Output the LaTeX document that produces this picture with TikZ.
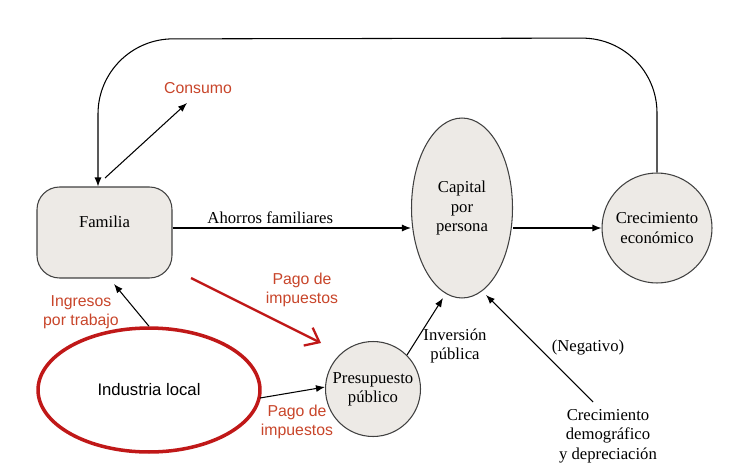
\documentclass[tikz,border=0pt]{standalone}
\usepackage{fontspec}
\setmainfont{Liberation Serif}
\newfontfamily\labelsans{Liberation Sans}
\usepackage{tikz}
\usetikzlibrary{arrows.meta,positioning,calc,shapes.geometric}

\definecolor{nodegray}{HTML}{EDEAE6}
\definecolor{labelred}{HTML}{C8452A}
\definecolor{ringred}{HTML}{C01818}

\begin{document}
\begin{tikzpicture}[
    x=0.02cm, y=-0.02cm,
    >={Latex[length=1.8mm,width=1.4mm]},
    every path/.style={line width=0.6pt},
    sector/.style={
        draw=black!75,
        fill=nodegray,
        align=center,
        font=\fontsize{9.5}{11}\selectfont,
        inner sep=1pt
    },
    redlabel/.style={
        text=labelred,
        align=center,
        font=\labelsans\small
    },
    blacklabel/.style={
        align=center,
        font=\fontsize{9.5}{11}\selectfont
    }
]

\useasboundingbox (0,0) rectangle (729,473);

% ------------------------------------------------
% Main nodes
% ------------------------------------------------

\node[sector, rectangle, rounded corners=0.45cm,
      minimum width=2.7cm, minimum height=1.82cm] (familia) at (104.5,232.5)
    {\raisebox{0.42cm}{Familia}};

\node[sector, ellipse, minimum width=2.02cm, minimum height=3.6cm] (capital) at (462,208)
    {Capital\\por\\persona};

\node[sector, circle, minimum size=2.2cm] (crecimiento) at (657,228)
    {Crecimiento\\económico};

\node[sector, circle, minimum size=1.9cm] (presupuesto) at (373,389)
    {Presupuesto\\público};

\node[ellipse, draw=ringred, line width=2pt, font=\labelsans\fontsize{9.5}{11}\selectfont,
      minimum width=4.44cm, minimum height=2.48cm] (industria) at (149,390)
    {Industria local};

\node[blacklabel] (demografia) at (608,436)
    {Crecimiento\\demográfico\\y depreciación};

% ------------------------------------------------
% Labels
% ------------------------------------------------

\node[redlabel] (consumo) at (198,88) {Consumo};
\node[redlabel] (ingresos) at (81,312) {Ingresos\\por trabajo};
\node[redlabel] (pago1) at (302,290) {Pago de\\impuestos};
\node[redlabel] (pago2) at (297,422) {Pago de\\impuestos};
\node[blacklabel] (inversion) at (455,346) {Inversión\\pública};
\node[blacklabel] (negativo) at (588,348) {(Negativo)};

\coordinate (topright) at (657,38);
\coordinate (topleft) at (98,39);
\coordinate (consumotip) at (187,103);
\coordinate (redstart) at (191,278);
\coordinate (redtip) at (321,343);

% ------------------------------------------------
% Connections
% ------------------------------------------------

% Feedback from growth to families
\draw[->, rounded corners=1.5cm]
    (crecimiento.north)
    -- (topright)
    -- (topleft)
    -- (familia.north -| topleft);

\draw[->] (105,178) -- (consumotip);
\draw[->] (familia.east |- 0,228) -- node[blacklabel, above=-1pt, pos=0.41] {Ahorros familiares} (capital.west |- 0,228);
\draw[->] (capital.east |- crecimiento.west) -- (crecimiento.west);

\draw[->] (industria.north -| 149,0) -- (114,284);
\draw[->, draw=ringred, line width=1.3pt, {-Straight Barb[length=2.5mm,width=4mm]}]
    (redstart) -- (redtip);
\draw[->] (260,398) -- (presupuesto.west |- 0,387);

\draw[->] (presupuesto.north east) -- (443,298);
\draw[->] (593,402) -- (486,295);

\end{tikzpicture}
\end{document}
